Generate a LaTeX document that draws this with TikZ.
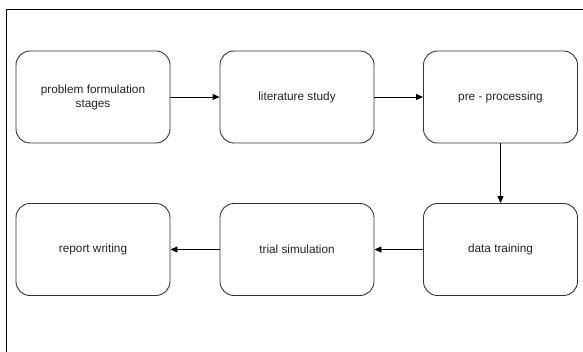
\documentclass[tikz,border=0pt]{standalone}
\usepackage{fontspec}
\setmainfont{Liberation Sans}
\usetikzlibrary{arrows.meta}
\definecolor{edge}{HTML}{333333}
\definecolor{txt}{HTML}{222222}
\begin{document}
\begin{tikzpicture}[x=1pt,y=-1pt,
  stage/.style={draw=edge,line width=0.9pt,rounded corners=14pt,minimum width=154pt,minimum height=92pt,inner sep=0pt,align=center,font=\fontsize{11.8}{14}\selectfont,text=txt},
  flow/.style={draw=black,line width=0.9pt,-{Triangle[length=7pt,width=6pt]}}]
\useasboundingbox (0,0) rectangle (583,352);
\draw[line width=1pt] (6,352) -- (6,10) -- (583,10);
\node[stage] (a) at (93,97) {problem formulation\\stages};
\node[stage] (b) at (297,97) {literature study};
\node[stage] (c) at (500.5,97) {pre - processing};
\node[stage] (d) at (500.5,249.5) {data training};
\node[stage] (e) at (297,249.5) {trial simulation};
\node[stage] (f) at (93,249.5) {report writing};
\draw[flow] (a) -- (b);
\draw[flow] (b) -- (c);
\draw[flow] (c) -- (d);
\draw[flow] (d) -- (e);
\draw[flow] (e) -- (f);
\end{tikzpicture}
\end{document}
